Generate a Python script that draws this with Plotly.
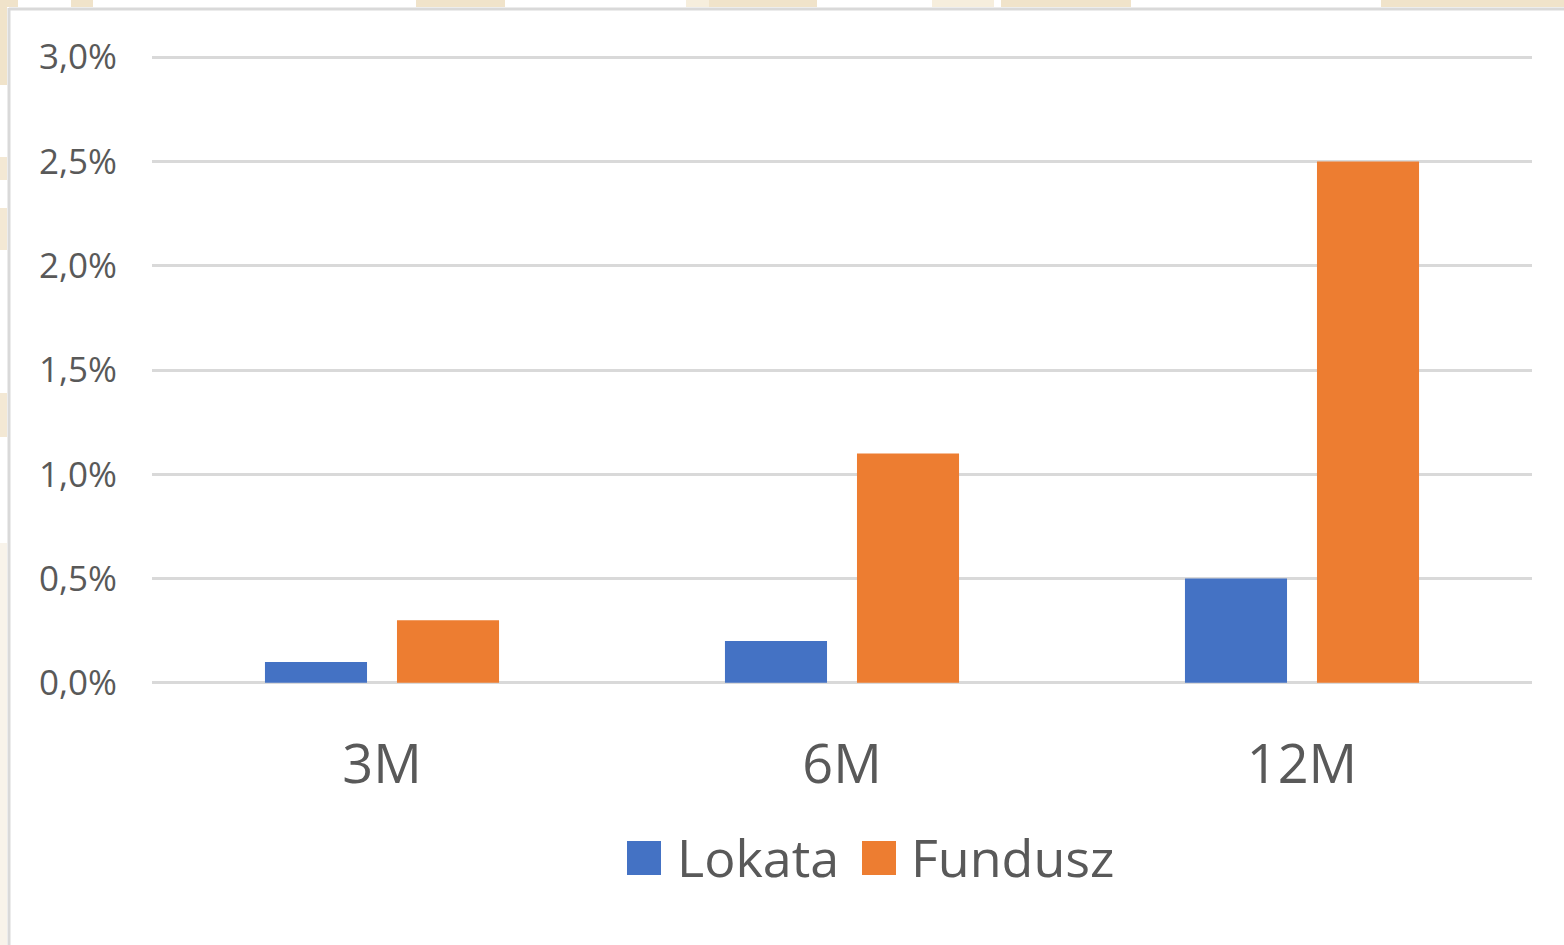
import plotly.graph_objects as go

categories = ["3M", "6M", "12M"]
lokata = [0.001, 0.002, 0.005]
fundusz = [0.003, 0.011, 0.025]
series_names = ["Lokata", "Fundusz"]
series_colors = ["#4472C4", "#ED7D31"]
y_ticks = [0.0, 0.005, 0.010, 0.015, 0.020, 0.025, 0.030]

W, H = 1564, 945
L, R, T, B = 152, 32, 53, 258
PW, PH = W - L - R, H - T - B


def px2x(px):
    return (px - L) / PW


def py2y(py):
    return (H - B - py) / PH


FONT = "Segoe UI, Open Sans, sans-serif"
TXT = "#595959"

fig = go.Figure()
for name, vals, col in zip(series_names, [lokata, fundusz], series_colors):
    fig.add_trace(go.Bar(x=categories, y=vals, name=name, marker_color=col,
                         marker_line_width=0, showlegend=False))

shapes = []
# frame lines
shapes.append(dict(type="line", xref="paper", yref="paper", x0=px2x(9), x1=px2x(1564),
                   y0=py2y(9), y1=py2y(9), line=dict(color="#d9d9d9", width=3)))
shapes.append(dict(type="line", xref="paper", yref="paper", x0=px2x(9), x1=px2x(9),
                   y0=py2y(8), y1=py2y(945), line=dict(color="#d9d9d9", width=3)))
# beige edge artifacts
beige = "#f0e3ca"
for x0, x1, c in [(0, 18, beige), (71, 93, beige), (416, 505, beige), (686, 709, "#f6eedd"),
                  (709, 817, beige), (932, 994, "#f6eedd"), (1001, 1131, beige), (1381, 1564, beige)]:
    shapes.append(dict(type="rect", xref="paper", yref="paper", x0=px2x(x0), x1=px2x(x1),
                       y0=py2y(0), y1=py2y(7), fillcolor=c, line_width=0, layer="below"))
for y0, y1, c in [(0, 85, beige), (157, 180, "#f3e8d4"), (208, 250, "#f3e8d4"),
                  (393, 437, "#f3e8d4"), (543, 945, "#f8f3ea")]:
    shapes.append(dict(type="rect", xref="paper", yref="paper", x0=px2x(0), x1=px2x(7),
                       y0=py2y(y0), y1=py2y(y1), fillcolor=c, line_width=0, layer="below"))

# custom legend
annotations = []
legend_items = [(627, 661, 675), (862, 896, 909)]
for (sx0, sx1, tx), name, col in zip(legend_items, series_names, series_colors):
    shapes.append(dict(type="rect", xref="paper", yref="paper", x0=px2x(sx0), x1=px2x(sx1),
                       y0=py2y(841), y1=py2y(875), fillcolor=col, line_width=0))
    annotations.append(dict(text=name, xref="paper", yref="paper", x=px2x(tx), y=py2y(856),
                            xanchor="left", yanchor="middle", showarrow=False,
                            font=dict(family=FONT, size=52, color=TXT)))

fig.update_layout(
    width=W, height=H,
    margin=dict(l=L, r=R, t=T, b=B),
    paper_bgcolor="white", plot_bgcolor="white",
    barmode="group", bargap=0.426, bargroupgap=0.227,
    separators=", ",
    shapes=shapes, annotations=annotations,
    showlegend=False,
)
fig.update_yaxes(range=[-0.0002, 0.0302], tickvals=y_ticks, tickformat=".1%",
                 showgrid=True, gridcolor="#d9d9d9", gridwidth=3,
                 zeroline=True, zerolinecolor="#d9d9d9", zerolinewidth=3,
                 showline=False, ticks="", ticklabelstandoff=34,
                 tickfont=dict(family=FONT, size=35, color=TXT))
fig.update_xaxes(showgrid=False, showline=False, ticks="", ticklabelstandoff=41,
                 tickfont=dict(family=FONT, size=54, color=TXT))

fig.write_html("out.html", config={"displayModeBar": False},
               post_script="document.body.style.margin='0';document.body.style.overflow='hidden';")
